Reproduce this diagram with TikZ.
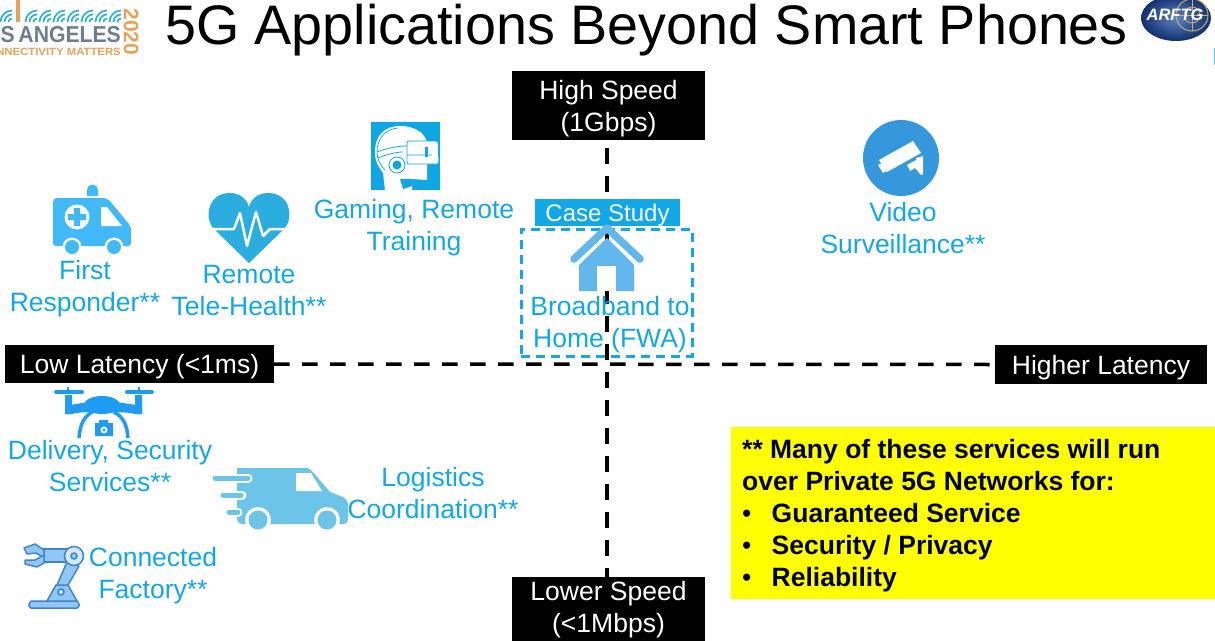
\documentclass[tikz,border=0pt]{standalone}
\usepackage{fontspec}
\setmainfont{Liberation Sans}
\definecolor{svcblue}{HTML}{12A8E8}
\definecolor{ambblue}{HTML}{41B8F8}
\definecolor{heartblue}{HTML}{2BADE0}
\definecolor{vrblue}{HTML}{0FA6E4}
\definecolor{houseblue}{HTML}{62B8EC}
\definecolor{cambblue}{HTML}{3598DC}
\definecolor{droneblue}{HTML}{1E9CF2}
\definecolor{vanblue}{HTML}{6CC5E8}
\definecolor{robfill}{HTML}{92C6F7}
\definecolor{robline}{HTML}{3F86C8}
\definecolor{logoteal}{HTML}{2FB3CE}
\definecolor{logogrey}{HTML}{6E7F8C}
\definecolor{logoorange}{HTML}{E8A25A}
\definecolor{arfblue}{HTML}{1B4FA3}
\definecolor{arfdark}{HTML}{12306E}
\definecolor{arfgold}{HTML}{C8B070}
\definecolor{noteyellow}{HTML}{FFFF00}
\tikzset{
  svctext/.style={text=svcblue,align=center,inner sep=0pt,font=\fontsize{26.5}{32}\selectfont},
  blackbar/.style={fill=black,inner sep=0pt},
  bartext/.style={text=white,align=center,inner sep=0pt,font=\fontsize{26.5}{32}\selectfont},
  axisline/.style={black,line width=3.5pt,dash pattern=on 15.5pt off 12.5pt},
  wave/.style={logoteal,line width=1.7pt},
  robpart/.style={fill=robfill,draw=robline,line width=1.5pt,line join=round}
}
\newcommand{\wavegroup}[1]{%
  \foreach \r in {3.5,7.5,11.5}{\draw[wave] (#1+13-\r,22) arc[start angle=180,end angle=90,radius=\r pt];}}
\begin{document}
\begin{tikzpicture}[x=1pt,y=-1pt]
\useasboundingbox (0,0) rectangle (1215,640);
\clip (0,0) rectangle (1215,640);
\fill[white] (0,0) rectangle (1215,640);
% logo left
\foreach \g in {-1,24,38,52,66,80,94,108}{\wavegroup{\g}}
\fill[logoorange] (16,0) rectangle (20,22);
\node[text=logogrey,anchor=east,inner sep=0pt,font=\fontsize{23}{23}\selectfont\bfseries] (logoa) at (121,35) {\scalebox{0.92}[1]{PS\hspace{4pt}ANGELES}};
\node[text=logoorange,anchor=east,inner sep=0pt,font=\fontsize{10.5}{10}\selectfont\bfseries] (logob) at (121,51.5) {\scalebox{1.08}[1]{CONNECTIVITY MATTERS}};
\node[text=logoorange,rotate=-90,inner sep=0pt,font=\fontsize{21}{21}\selectfont\bfseries] (logoc) at (131,32) {2020};
% ARFTG logo
\shade[inner color=arfblue!70!white,outer color=arfdark] (1176,18) ellipse[x radius=35,y radius=23];
\draw[arfgold,line width=1pt] (1192,15) circle[radius=16];
\draw[arfgold,line width=0.8pt] (1192,15) circle[radius=8];
\draw[arfgold,line width=0.8pt] (1176,15) -- (1208,15) (1192,-1) -- (1192,31);
\node[text=white,inner sep=0pt,font=\fontsize{16.5}{16}\selectfont\bfseries\itshape] (arftg) at (1175,15) {ARFTG};
\fill[houseblue] (1214,48) rectangle (1215,65);
% title
\node[inner sep=0pt,font=\fontsize{55.7}{56}\selectfont] (title) at (646.5,30) {5G Applications Beyond Smart Phones};
% axis boxes
\node[blackbar,minimum width=193pt,minimum height=69pt] (high) at (608.5,105.5) {};
\node[bartext] (hightext) at (608.5,108.5) {High Speed\\(1Gbps)};
\node[blackbar,minimum width=193pt,minimum height=69pt] (low) at (608.5,611.5) {};
\node[bartext] (lowtext) at (608.5,609.5) {Lower Speed\\(<1Mbps)};
\node[blackbar,minimum width=269pt,minimum height=38pt] (lat) at (139.5,364) {};
\node[bartext] (lattext) at (139.5,367) {Low Latency (<1ms)};
\node[blackbar,minimum width=212pt,minimum height=39pt] (hlat) at (1101,364.5) {};
\node[bartext] (hlattext) at (1101,367.5) {Higher Latency};
\draw[axisline,dash phase=20pt] ([xshift=-1.5pt]high.south) -- ([xshift=-1.5pt]low.north);
\draw[axisline] (lat.east) -- (hlat.west);
% case study
\node[fill=svcblue,inner sep=0pt,minimum width=145pt,minimum height=27pt] (case) at (607.5,212) {};
\node[text=white,inner sep=0pt,font=\fontsize{24}{28}\selectfont] (casetext) at (607.5,215) {Case Study};
\node[draw=svcblue,line width=3pt,dash pattern=on 9pt off 6pt,minimum width=171pt,minimum height=127pt,inner sep=0pt] (fwa) at (606.5,292.5) {};
% house
\fill[houseblue] (607,238) -- (579,265) -- (579,291) -- (597,291) -- (597,266) -- (616,266) -- (616,291) -- (634,291) -- (634,265) -- cycle;
\fill[white] (597,266) rectangle (616,291);
\draw[houseblue,line width=7.5pt,line cap=round,line join=round] (574,259) -- (607,228) -- (640,259);
\node[svctext] (bb) at (610,325) {Broadband to\\Home (FWA)};
% ambulance
\fill[ambblue] (53,202) arc[start angle=180,end angle=90,radius=4pt] -- (104,198) -- (109,200) -- (129,224) -- (131,229) -- (131,243) arc[start angle=0,end angle=-90,radius=3pt] -- (56,246) arc[start angle=270,end angle=180,radius=3pt] -- cycle;
\fill[ambblue] (87,196) -- (87,190) arc[start angle=180,end angle=0,radius=5.5pt] -- (98,196) -- cycle;
\fill[white] (101,207) -- (107,207) -- (122,226) -- (101,226) -- cycle;
\fill[white] (77,217) circle[radius=12.5];
\fill[ambblue] (74,208) rectangle (80,226) (68,214) rectangle (86,220);
\foreach \c in {72,114}{\fill[white] (\c,247) circle[radius=9.5]; \fill[ambblue] (\c,247) circle[radius=7];}
\node[svctext] (first) at (85,289) {First\\Responder**};
% heart
\fill[heartblue] (249,263) -- (214,229) .. controls (204,219) and (207,193) .. (230,193) .. controls (240,193) and (247,199) .. (249,207) .. controls (251,199) and (258,193) .. (268,193) .. controls (291,193) and (294,219) .. (284,229) -- cycle;
\draw[white,line width=2.5pt,line join=round] (211,229) -- (234,229) -- (240,213) -- (247,246) -- (256,212) -- (263,236) -- (270,229) -- (288,229);
\node[svctext] (health) at (249,291) {Remote\\Tele-Health**};
% VR
\fill[vrblue] (371,122) rectangle (440,190);
\fill[white] (385,190) -- (383,173) .. controls (377,165) and (375,160) .. (375,152) .. controls (375,135) and (385,126) .. (400,126) .. controls (414,126) and (424,132) .. (427,142) -- (427,165) -- (427,180) -- (412,179) -- (412,190) -- cycle;
\draw[vrblue,line width=0.7pt] (385,170) .. controls (379,163) and (377,158) .. (377,152) .. controls (377,138) and (386,129) .. (398,128);
\fill[vrblue] (400,179) -- (412,179) -- (412,186) -- (403,189) -- cycle;
\draw[vrblue,line width=0.8pt,rounded corners=2pt,fill=white] (407,141) -- (438,141) -- (439,164) -- (407,164) -- cycle;
\draw[vrblue,line width=0.8pt] (377,152) .. controls (387,148) and (398,146) .. (407,146) (407,155) -- (432,155) (378,158) .. controls (388,154) and (397,152) .. (403,152);
\fill[vrblue] (425,147) rectangle (428,157);
\draw[vrblue,line width=0.8pt,fill=white] (397,165) circle[radius=8];
\fill[vrblue] (397,165) circle[radius=4.5];
\node[svctext] (game) at (414,228) {Gaming, Remote\\Training};
% camera
\fill[cambblue] (901,158) circle[radius=38];
\fill[white] (879,160) -- (913,141) -- (921,153) -- (887,172) -- cycle;
\fill[white] (878,165) -- (884,162) -- (888,170) -- (883,173) -- cycle;
\fill[white] (907,165) -- (916,160) -- (916,158) -- (923,156) -- (923,174) -- (921,175) -- (915,168) -- (910,171) -- cycle;
\node[svctext] (video) at (903,228) {Video\\Surveillance**};
% drone
\draw[droneblue,line width=4pt,line cap=round] (56,392) -- (82,392) (127,392) -- (152,392);
\draw[droneblue,line width=2.5pt] (68,387) -- (68,392) (139,387) -- (139,392);
\fill[droneblue] (65,395) rectangle (72,414) (135,395) rectangle (142,414);
\fill[droneblue] (102,405) ellipse[x radius=18,y radius=9];
\fill[droneblue] (65,406) -- (65,414) -- (72,414) .. controls (82,411) and (92,413) .. (102,413) .. controls (112,413) and (124,411) .. (135,414) -- (142,414) -- (142,406) -- (130,404) -- (102,400) -- (76,404) -- cycle;
\draw[droneblue,line width=3.5pt] (92,412) .. controls (84,417) and (80,424) .. (79,438) (114,412) .. controls (123,417) and (127,424) .. (128,438);
\fill[droneblue] (95,423) rectangle (113,436) (99,420) rectangle (108,424);
\fill[white] (104,430) circle[radius=3.5];
\fill[droneblue] (104,430) circle[radius=1.6];
\node[svctext] (drone) at (110,466) {Delivery, Security\\Services**};
% van
\fill[vanblue] (237,468) -- (306,468) .. controls (309,468) and (310,469) .. (312,471) -- (330,492) -- (343,497) .. controls (346,499) and (348,501) .. (348,505) -- (348,520) .. controls (348,523) and (346,524) .. (343,524) -- (243,524) .. controls (239,524) and (237,522) .. (237,518) -- cycle;
\fill[white] (296,473) -- (311,473) -- (322,491) -- (296,491) -- cycle;
\draw[white,line width=9pt,line cap=round] (215,478) -- (248,478) (222,495) -- (242,495) (229,512) -- (238,512);
\draw[vanblue,line width=5pt,line cap=round] (215,478) -- (248,478) (223,495) -- (241,495) (229,512) -- (238,512);
\foreach \c in {258,327}{\fill[white] (\c,520) circle[radius=13]; \fill[vanblue] (\c,520) circle[radius=9.5];}
\node[svctext] (logi) at (433,493) {Logistics\\Coordination**};
% robot
\path[robpart] (31,601) -- (77,601) -- (79,604) -- (79,606) -- (77,608) -- (31,608) -- (29,606) -- (29,604) -- cycle;
\path[robpart] (47,601) -- (56,585) -- (68,585) -- (77,601) -- cycle;
\draw[robline,line width=1.5pt,fill=white!60!robfill] (61,592) circle[radius=3];
\path[robpart] (57,585) -- (67,562) -- (79,566) -- (68,585) -- cycle;
\path[robpart] (43,549) -- (67,549) -- (67,562) -- (43,562) -- cycle;
\path[robpart] (24,548) -- (35,544) -- (44,550) -- (44,558) -- (36,553) -- (27,554) -- cycle;
\path[robpart] (25,560) -- (35,560) -- (44,555) -- (44,563) -- (37,567) -- (25,564) -- cycle;
\draw[robline,line width=1.5pt,fill=white!60!robfill] (74,556) circle[radius=9.5];
\draw[robline,line width=1.5pt,fill=robfill] (74,556) circle[radius=3];
\node[svctext] (fact) at (153,576) {Connected\\Factory**};
% yellow
\fill[noteyellow] (731,427) rectangle (1215,599);
\node[inner sep=0pt,anchor=north west,align=left,font=\fontsize{26.5}{32}\selectfont\bfseries] (note) at (742,439) {** Many of these services will run\\over Private 5G Networks for:\\\makebox[29.5pt][l]{\mdseries•}Guaranteed Service\\\makebox[29.5pt][l]{\mdseries•}Security / Privacy\\\makebox[29.5pt][l]{\mdseries•}Reliability};
\end{tikzpicture}
\end{document}
